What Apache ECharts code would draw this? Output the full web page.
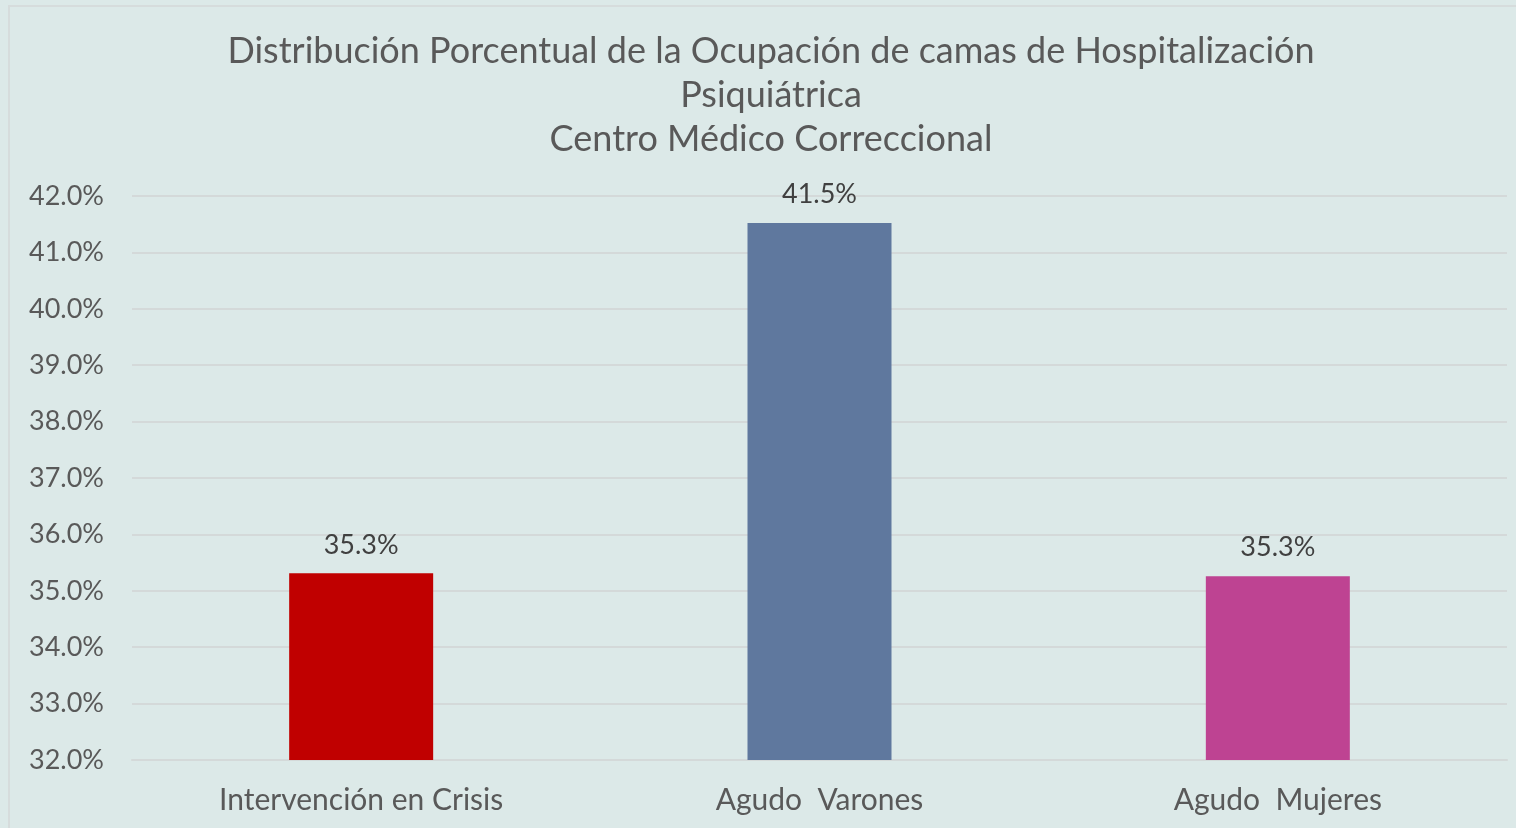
<!DOCTYPE html>
<html>
<head>
<meta charset="utf-8">
<script src="https://cdn.jsdelivr.net/npm/echarts@6/dist/echarts.min.js"></script>
<style>
  html, body { margin: 0; padding: 0; background: #dce9e8; overflow: hidden; }
  #main {
    position: absolute; left: 8px; top: 5px;
    width: 1508px; height: 823px;
    border-left: 2px solid #d6dcdc; border-top: 2px solid #d6dcdc;
  }
</style>
</head>
<body>
<div id="main"></div>
<script>
// categorias y valores (%)
var categories = ['Intervención en Crisis', 'Agudo  Varones', 'Agudo  Mujeres'];
var values = [35.31, 41.52, 35.26];
var barColors = ['#c00000', '#5f789e', '#be4392'];
var titleLines = [
  'Distribución Porcentual de la Ocupación de camas de Hospitalización',
  'Psiquiátrica',
  'Centro Médico Correccional'
];

var font = 'Lato, "Open Sans", sans-serif';

var chart = echarts.init(document.getElementById('main'));
chart.setOption({
  backgroundColor: '#dce9e8',
  title: {
    text: titleLines.join('\n'),
    left: 756,
    textAlign: 'center',
    top: 17,
    textStyle: {
      fontFamily: font,
      fontSize: 36,
      fontWeight: 'normal',
      color: '#595959',
      lineHeight: 44
    }
  },
  grid: { left: 122, right: 11, top: 189, bottom: 70 },
  xAxis: {
    type: 'category',
    data: categories,
    axisTick: { show: false },
    axisLine: { lineStyle: { color: '#d4d9d9', width: 2 } },
    axisLabel: {
      fontFamily: font, fontSize: 30, color: '#595959', margin: 25
    }
  },
  yAxis: {
    type: 'value',
    min: 32, max: 42, interval: 1,
    axisLine: { show: false },
    axisTick: { show: false },
    splitLine: { lineStyle: { color: '#d4d9d9', width: 2 } },
    axisLabel: {
      fontFamily: font, fontSize: 27, color: '#595959', margin: 28,
      formatter: function (v) { return v.toFixed(1) + '%'; }
    }
  },
  series: [{
    type: 'bar',
    barWidth: 144,
    data: values.map(function (v, i) {
      return { value: v, itemStyle: { color: barColors[i] } };
    }),
    label: {
      show: true,
      position: 'top',
      distance: 15,
      fontFamily: font,
      fontSize: 27,
      color: '#404040',
      formatter: function (p) { return p.value.toFixed(1) + '%'; }
    }
  }]
});
</script>
</body>
</html>
